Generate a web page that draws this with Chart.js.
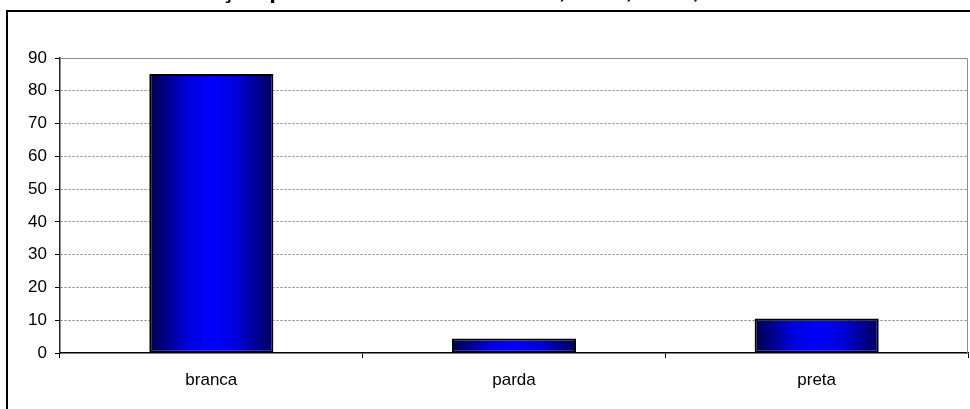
<!DOCTYPE html>
<html>
<head>
<meta charset="utf-8">
<script src="https://cdn.jsdelivr.net/npm/chart.js@4/dist/chart.umd.min.js"></script>
<style>
  html, body { margin: 0; padding: 0; background: #fff; }
  #wrap { position: relative; width: 970px; height: 409px; overflow: hidden; }
</style>
</head>
<body>
<div id="wrap"><canvas id="myChart" width="970" height="409"></canvas></div>
<script>
// data (percent)
const categories = ['branca', 'parda', 'preta'];
const values = [85.1, 4.4, 10.5];
const yMax = 90;
const yStep = 10;
const titleText = 'Distribuição por cor nos anos de 2004, 2005, 2006, 2007';

const barPct = 0.41;
const font = { family: '"Liberation Sans", Arial, sans-serif', size: 17 };

// frame, clipped title and plot border
const decor = {
  id: 'decor',
  beforeDraw(chart) {
    const ctx = chart.ctx;
    ctx.save();
    ctx.fillStyle = '#000';
    ctx.fillRect(6, 10, 2, 420);
    ctx.fillRect(6, 10, 980, 2);
    // title sits mostly above the picture, only descenders show
    ctx.font = 'bold 24px "Liberation Sans", Arial, sans-serif';
    ctx.textBaseline = 'alphabetic';
    const pre = ctx.measureText('Distribui').width;
    const c = ctx.measureText('ç').width;
    ctx.fillText(titleText, 228 - pre - c / 2, -2);
    ctx.restore();
  },
  beforeDatasetsDraw(chart) {
    const a = chart.chartArea;
    const ctx = chart.ctx;
    ctx.save();
    ctx.strokeStyle = '#8c8c8c';
    ctx.lineWidth = 1;
    ctx.beginPath();
    ctx.moveTo(a.left, a.top + 0.5);
    ctx.lineTo(a.right - 0.5, a.top + 0.5);
    ctx.lineTo(a.right - 0.5, a.bottom);
    ctx.stroke();
    ctx.restore();
  }
};

function barFill(c) {
  const chart = c.chart;
  const x = chart.scales.x;
  if (!x || c.dataIndex === undefined) return '#0000ff';
  const cx = x.getPixelForValue(c.dataIndex);
  const half = x.width / categories.length * barPct / 2;
  if (!isFinite(cx) || !isFinite(half) || half <= 0) return '#0000ff';
  const g = chart.ctx.createLinearGradient(cx - half, 0, cx + half, 0);
  g.addColorStop(0, '#00004a');
  g.addColorStop(0.3, '#0000dc');
  g.addColorStop(0.5, '#0000ff');
  g.addColorStop(0.7, '#0000dc');
  g.addColorStop(1, '#00005a');
  return g;
}

const ctx = document.getElementById('myChart').getContext('2d');
new Chart(ctx, {
  type: 'bar',
  data: {
    labels: categories,
    datasets: [{
      data: values,
      backgroundColor: barFill,
      borderColor: '#000',
      borderWidth: 2,
      borderSkipped: false,
      categoryPercentage: 1,
      barPercentage: barPct
    }]
  },
  options: {
    responsive: false,
    animation: false,
    layout: { padding: { top: 58, right: 2, left: 0, bottom: 0 } },
    plugins: { legend: { display: false }, tooltip: { enabled: false } },
    scales: {
      x: {
        afterFit(s) { s.height = 56; },
        grid: { offset: true, drawOnChartArea: false, drawTicks: true, tickLength: 5, tickColor: '#000', tickWidth: 1 },
        border: { display: true, color: '#000', width: 1.5 },
        ticks: { color: '#000', font: font, padding: 12 }
      },
      y: {
        min: 0,
        max: yMax,
        afterFit(s) { s.width = 60; },
        grid: {
          color: (c) => (c.tick && (c.tick.value === 0 || c.tick.value === yMax)) ? 'rgba(0,0,0,0)' : '#808080',
          lineWidth: 1,
          drawTicks: true,
          tickLength: 5,
          tickColor: '#000',
          tickWidth: 1
        },
        border: { display: true, color: '#222', width: 1.5, dash: [2, 2] },
        ticks: { stepSize: yStep, color: '#000', font: font, padding: 8 }
      }
    }
  },
  plugins: [decor]
});
</script>
</body>
</html>
